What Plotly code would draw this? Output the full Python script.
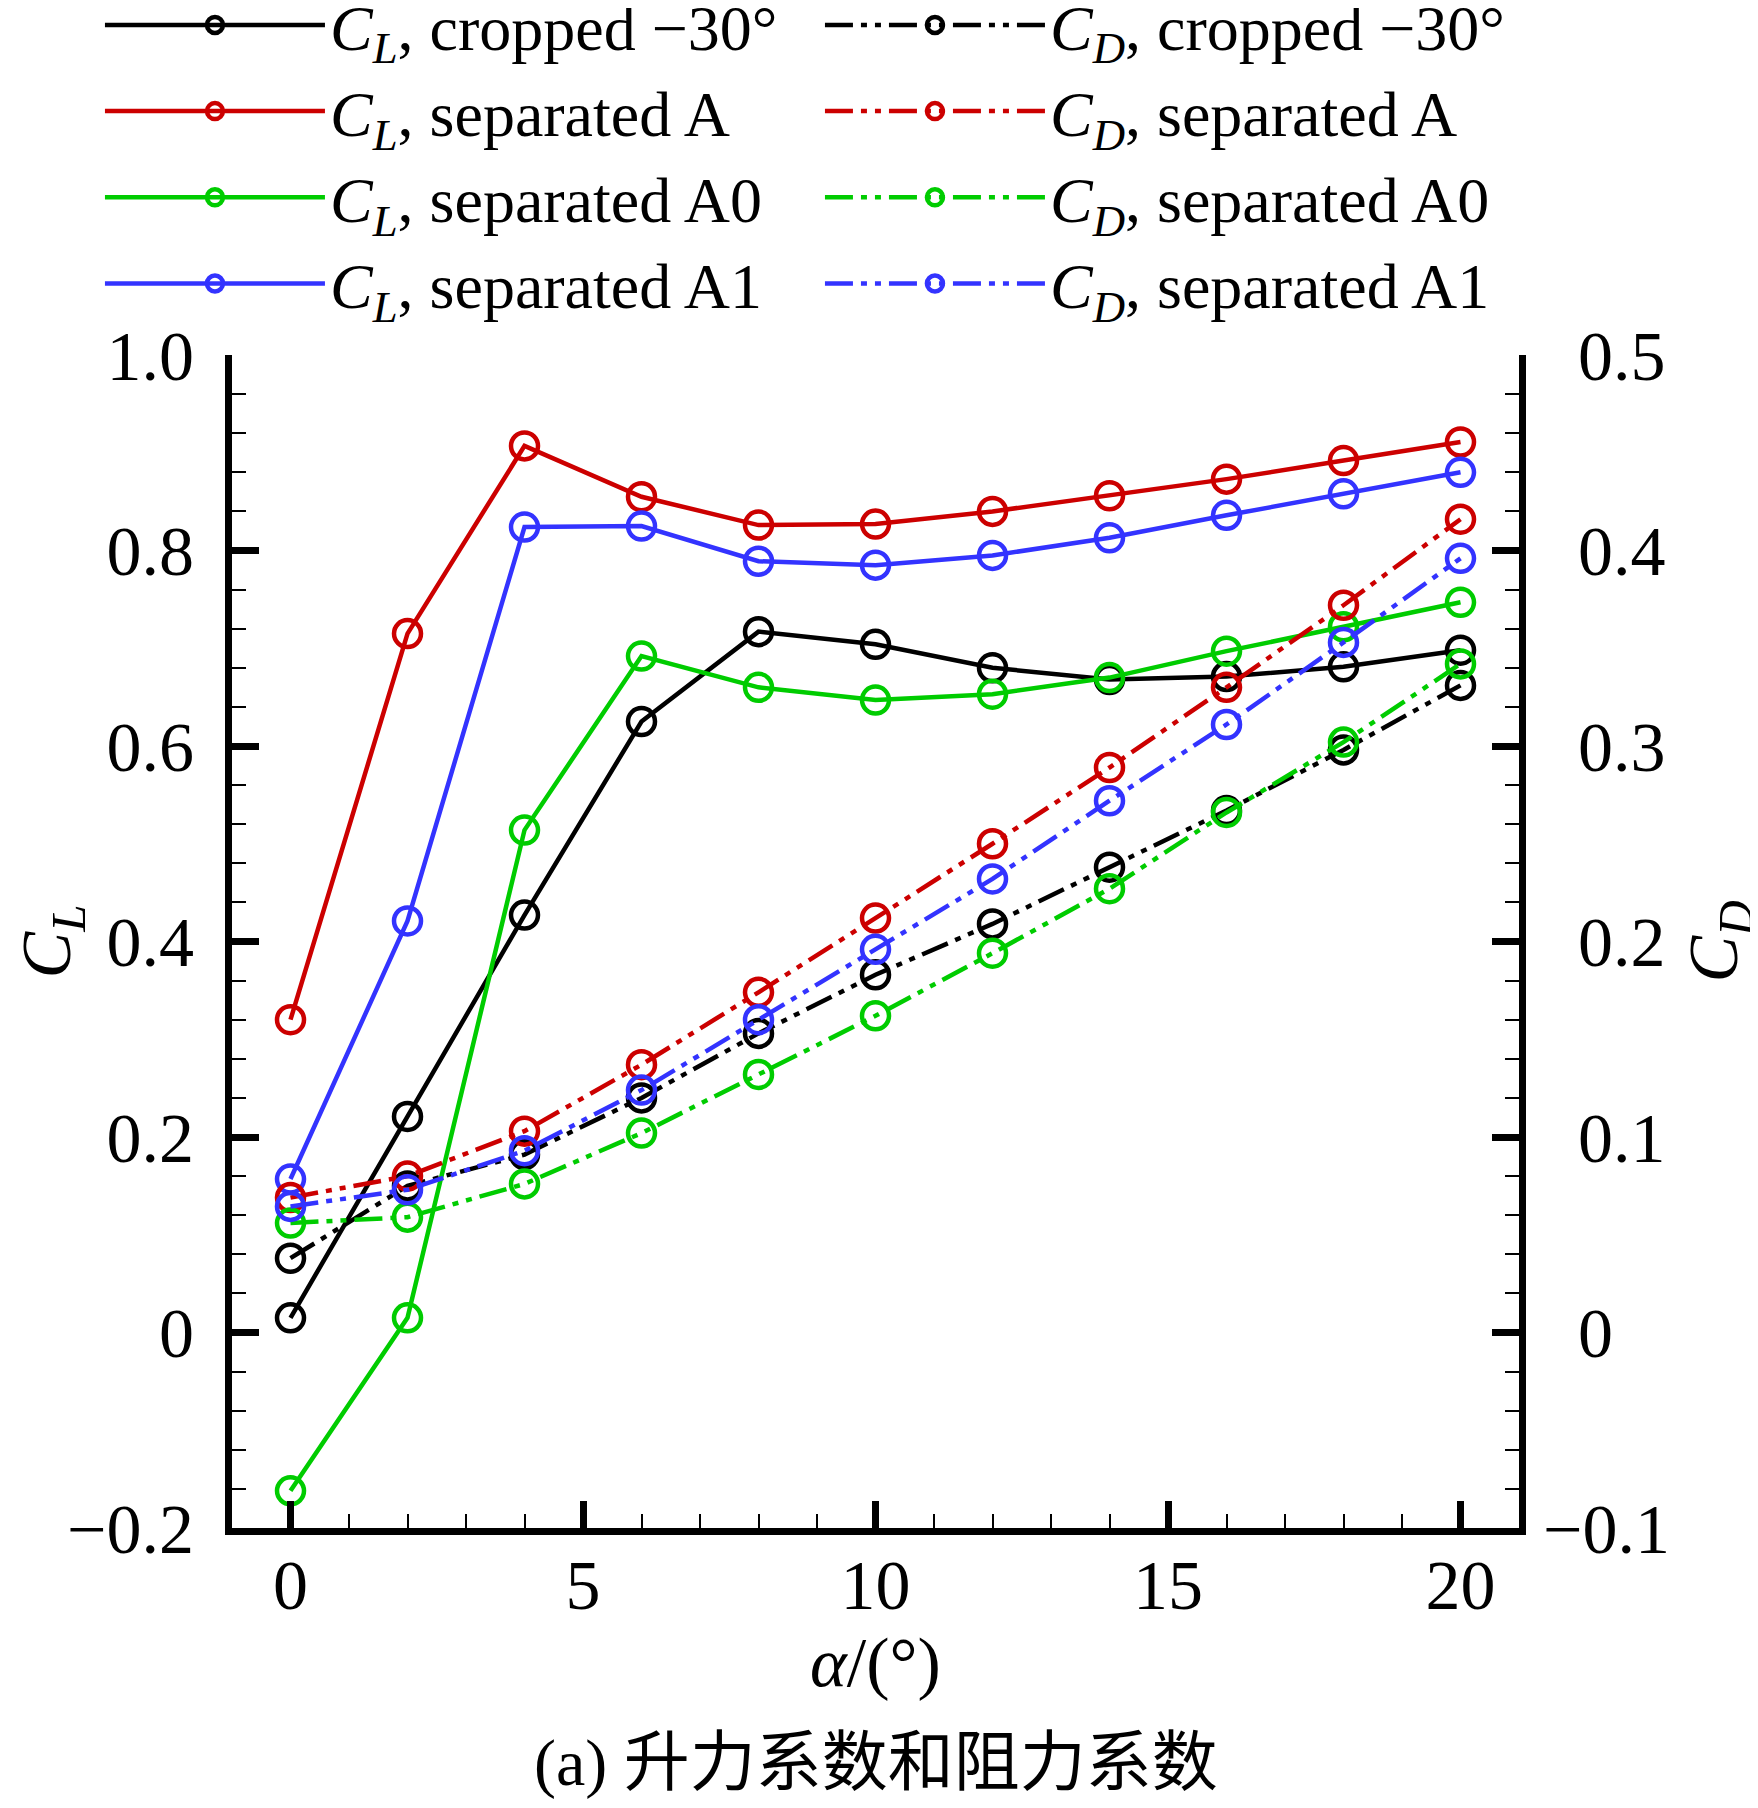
import plotly.graph_objects as go

# angle of attack (deg)
alpha = [0, 2, 4, 6, 8, 10, 12, 14, 16, 18, 20]

# lift coefficients
cl_cropped = [0.015, 0.221, 0.427, 0.625, 0.717, 0.704, 0.680, 0.668, 0.671, 0.681, 0.698]
cl_sep_a = [0.320, 0.715, 0.907, 0.855, 0.826, 0.827, 0.840, 0.856, 0.873, 0.892, 0.911]
cl_sep_a0 = [-0.162, 0.015, 0.514, 0.692, 0.660, 0.647, 0.653, 0.670, 0.697, 0.722, 0.747]
cl_sep_a1 = [0.157, 0.421, 0.824, 0.825, 0.789, 0.785, 0.795, 0.813, 0.836, 0.858, 0.880]

# drag coefficients
cd_cropped = [0.038, 0.075, 0.091, 0.120, 0.153, 0.183, 0.209, 0.238, 0.267, 0.298, 0.331]
cd_sep_a = [0.069, 0.080, 0.103, 0.137, 0.174, 0.212, 0.250, 0.289, 0.330, 0.372, 0.416]
cd_sep_a0 = [0.056, 0.059, 0.076, 0.102, 0.132, 0.162, 0.194, 0.227, 0.266, 0.302, 0.342]
cd_sep_a1 = [0.0645, 0.073, 0.093, 0.124, 0.160, 0.196, 0.232, 0.272, 0.311, 0.353, 0.396]

cases = ["cropped −30°", "separated A", "separated A0", "separated A1"]
colors = ["#000000", "#cc0000", "#00cc00", "#3333ff"]
cl_all = [cl_cropped, cl_sep_a, cl_sep_a0, cl_sep_a1]
cd_all = [cd_cropped, cd_sep_a, cd_sep_a0, cd_sep_a1]

xticks = [0, 5, 10, 15, 20]
yticks = [-0.2, 0, 0.2, 0.4, 0.6, 0.8, 1.0]
ytext = ["−0.2", "0", "0.2", "0.4", "0.6", "0.8", "1.0"]
y2ticks = [-0.1, 0, 0.1, 0.2, 0.3, 0.4, 0.5]
y2text = ["−0.1", "\u20020", "\u20020.1", "\u20020.2", "\u20020.3", "\u20020.4", "\u20020.5"]

SERIF = "Liberation Serif, Times New Roman, serif"
DASH = "28px,8px,6px,8px,6px,8px"

fig = go.Figure()
for name, c, cl, cd in zip(cases, colors, cl_all, cd_all):
    fig.add_trace(go.Scatter(
        x=alpha, y=cl, mode="lines+markers",
        name="<i>C</i><sub><i>L</i></sub>, " + name,
        line=dict(color=c, width=4.5),
        marker=dict(symbol="circle-open", size=27, color=c, line=dict(width=4.5, color=c)),
    ))
    fig.add_trace(go.Scatter(
        x=alpha, y=cd, mode="lines+markers", yaxis="y2",
        name="<i>C</i><sub><i>D</i></sub>, " + name,
        line=dict(color=c, width=4.5, dash=DASH),
        marker=dict(symbol="circle-open", size=27, color=c, line=dict(width=4.5, color=c)),
    ))

axis_common = dict(
    showline=True, linewidth=7, linecolor="black",
    ticks="inside", ticklen=27, tickwidth=7, tickcolor="black",
    showgrid=False, zeroline=False, automargin=False,
    tickfont=dict(family=SERIF, size=70, color="black"),
)

fig.update_layout(
    width=1758, height=1808,
    paper_bgcolor="white", plot_bgcolor="white",
    margin=dict(l=224, r=247, t=347, b=288, autoexpand=False),
    font=dict(family=SERIF, size=66, color="black"),
    xaxis=dict(
        range=[-1, 21], tickvals=xticks, ticklabelstandoff=-10,
        minor=dict(dtick=1, ticklen=14, tickwidth=2, ticks="inside", tickcolor="black"),
        title=dict(text="<i>α</i>/(°)", font=dict(family=SERIF, size=70), standoff=10),
        **axis_common,
    ),
    yaxis=dict(
        range=[-0.2, 1.0], tickvals=yticks, ticktext=ytext, ticklabelstandoff=17,
        minor=dict(dtick=0.04, tick0=0, ticklen=14, tickwidth=2, ticks="inside", tickcolor="black"),
        title=dict(text="<i>C</i><sub><i>L</i></sub>", font=dict(family=SERIF, size=70), standoff=12),
        **axis_common,
    ),
    yaxis2=dict(
        range=[-0.1, 0.5], tickvals=y2ticks, ticktext=y2text, ticklabelstandoff=3,
        overlaying="y", side="right",
        minor=dict(dtick=0.02, tick0=0, ticklen=14, tickwidth=2, ticks="inside", tickcolor="black"),
        title=dict(text="<i>C</i><sub><i>D</i></sub>", font=dict(family=SERIF, size=70), standoff=22),
        **axis_common,
    ),
    legend=dict(
        orientation="h", xref="paper", yref="paper",
        x=-0.1026, y=1.3224, xanchor="left", yanchor="top",
        itemwidth=220, entrywidth=485, entrywidthmode="pixels",
        font=dict(family=SERIF, size=64), bgcolor="rgba(0,0,0,0)",
        tracegroupgap=0, itemsizing="trace",
    ),
    showlegend=True,
)

fig.add_annotation(
    text="(a) 升力系数和阻力系数", xref="paper", yref="paper",
    x=0.5, y=-0.2, xanchor="center", yanchor="middle", showarrow=False,
    font=dict(family="Liberation Serif, Noto Sans CJK SC", size=66, color="black"),
)

fig.write_html("out.html")
